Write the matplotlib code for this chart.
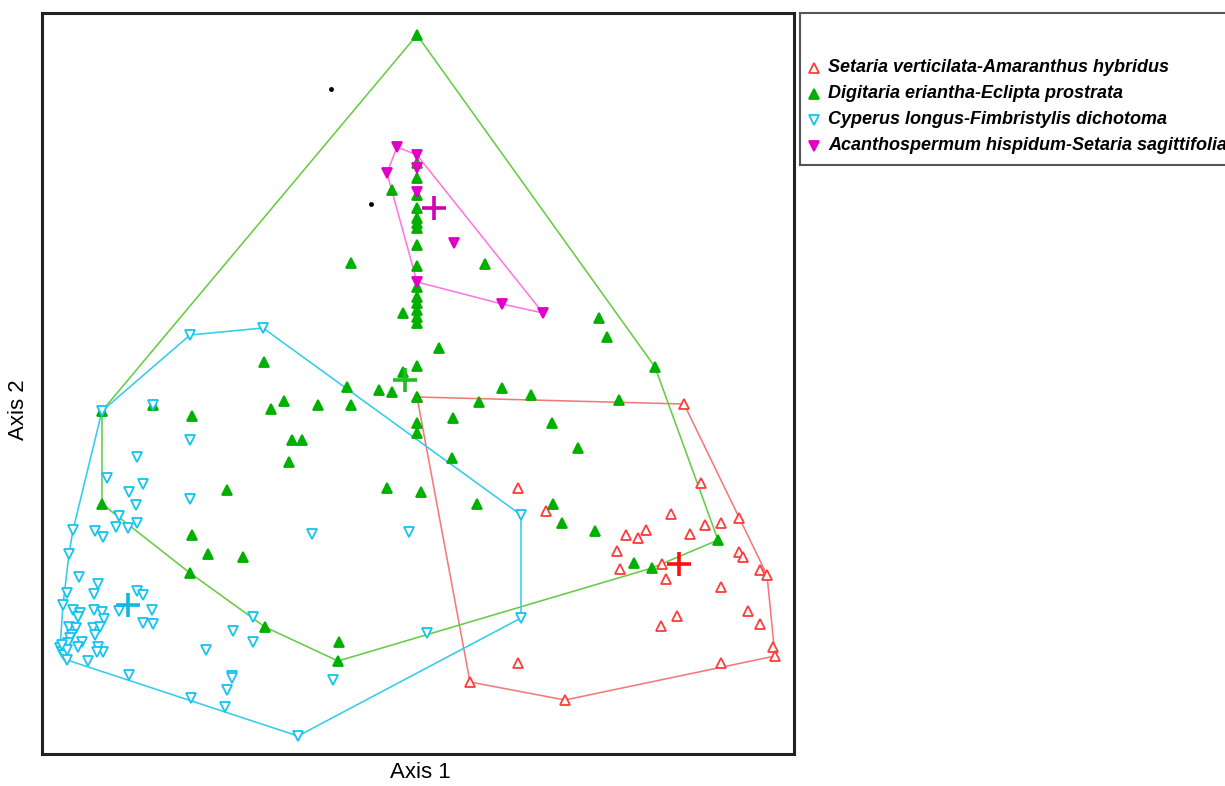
import matplotlib

matplotlib.use("Agg")
import matplotlib.pyplot as plt  # noqa: E402
import numpy as np  # noqa: E402

# ordination scores (axis 2 grows downward in these units)
setaria_x = [417, 684, 701, 518, 546, 671, 739, 721, 705, 646, 626, 638, 690, 617,
             739, 743, 662, 620, 666, 760, 767, 721, 748, 677, 760, 661, 773, 775,
             721, 518, 565, 470]
setaria_y = [397, 404, 483, 488, 511, 514, 518, 523, 525, 530, 535, 538, 534, 551,
             552, 557, 564, 569, 579, 570, 575, 587, 611, 616, 624, 626, 647, 656,
             663, 663, 700, 682]

digitaria_x = [417, 102, 102, 153, 192, 264, 271, 284, 318, 347, 351, 379, 392, 403,
               417, 417, 292, 302, 289, 227, 192, 208, 243, 190, 265, 339, 338, 387,
               421, 417, 417, 453, 452, 479, 502, 531, 552, 578, 477, 553, 562, 595,
               619, 634, 652, 718, 655, 599, 607, 439, 403, 351, 485, 392,
               417, 417, 417, 417, 417, 417, 417, 417, 417, 417, 417, 417, 417, 417, 417]
digitaria_y = [35, 411, 504, 405, 416, 362, 409, 401, 405, 387, 405, 390, 392, 372,
               366, 397, 440, 440, 462, 490, 535, 554, 557, 573, 627, 642, 661, 488,
               492, 423, 433, 418, 458, 402, 388, 395, 423, 448, 504, 504, 523, 531,
               400, 563, 568, 540, 367, 318, 337, 348, 313, 263, 264, 190,
               163, 178, 195, 208, 218, 223, 228, 245, 266, 287, 297, 303, 310, 317, 323]

cyperus_x = [102, 153, 190, 263, 190, 137, 107, 143, 129, 136, 190, 119, 137, 116, 95,
             103, 128, 73, 69, 79, 98, 94, 67, 63, 137, 143, 119, 73, 80, 78, 94, 102,
             104, 152, 143, 153, 93, 100, 95, 69, 76, 72, 82, 78, 70, 68, 60, 62, 64,
             67, 62, 98, 103, 97, 88, 67, 206, 129, 191, 232, 232, 227, 225, 253, 233,
             253, 333, 298, 312, 409, 521, 427, 521]
cyperus_y = [411, 405, 335, 328, 440, 457, 478, 484, 492, 505, 499, 516, 523, 527, 531,
             537, 528, 530, 554, 577, 584, 594, 593, 605, 591, 595, 611, 610, 613, 617,
             610, 612, 619, 610, 623, 624, 628, 627, 635, 627, 628, 635, 642, 647, 638,
             643, 648, 652, 655, 650, 645, 647, 652, 652, 661, 660, 650, 675, 698, 676,
             678, 690, 707, 617, 631, 642, 680, 736, 534, 532, 515, 633, 618]

acanth_x = [397, 417, 387, 417, 417, 454, 417, 502, 543]
acanth_y = [147, 155, 173, 168, 192, 243, 282, 304, 313]

# group centroids
centroid_x = [679, 405, 128, 434]
centroid_y = [564, 380, 605, 208]

speck_x = [331, 371]
speck_y = [89, 204]

labels = [
    "Setaria verticilata-Amaranthus hybridus",
    "Digitaria eriantha-Eclipta prostrata",
    "Cyperus longus-Fimbristylis dichotoma",
    "Acanthospermum hispidum-Setaria sagittifolia",
]


def convex_hull(xs, ys):
    pts = sorted(set(zip(xs, ys)))

    def cross(o, a, b):
        return (a[0] - o[0]) * (b[1] - o[1]) - (a[1] - o[1]) * (b[0] - o[0])

    lower, upper = [], []
    for p in pts:
        while len(lower) >= 2 and cross(lower[-2], lower[-1], p) <= 0:
            lower.pop()
        lower.append(p)
    for p in reversed(pts):
        while len(upper) >= 2 and cross(upper[-2], upper[-1], p) <= 0:
            upper.pop()
        upper.append(p)
    hull = lower[:-1] + upper[:-1]
    hull.append(hull[0])
    return np.array(hull)


W, H = 1225, 786
fig = plt.figure(figsize=(W / 100, H / 100), dpi=100)
ax = fig.add_axes([42 / W, (H - 754) / H, (794 - 42) / W, (754 - 13) / H])

groups = [
    # x, y, marker, face, edge, hull colour, cross colour
    (setaria_x, setaria_y, "^", "white", "#ff3b3b", "#f47a7a", "#ff1010"),
    (digitaria_x, digitaria_y, "^", "#00b000", "#00b000", "#66cc44", "#22bb22"),
    (cyperus_x, cyperus_y, "v", "white", "#14c4f0", "#33ccee", "#10b8e0"),
    (acanth_x, acanth_y, "v", "#e000c8", "#e000c8", "#ff77e0", "#d000b8"),
]

for gx, gy, mk, fc, ec, hc, cc in groups:
    hull = convex_hull(gx, gy)
    ax.plot(hull[:, 0], hull[:, 1], "-", color=hc, lw=1.15, zorder=2)

for gx, gy, mk, fc, ec, hc, cc in groups:
    ax.plot(gx, gy, mk, ls="none", ms=6.8, mfc=fc, mec=ec, mew=1.3, zorder=3)

for (gx, gy, mk, fc, ec, hc, cc), cx, cy in zip(groups, centroid_x, centroid_y):
    ax.plot(cx, cy, "+", color=cc, ms=17, mew=2.6, zorder=4)

ax.plot(speck_x, speck_y, "o", color="black", ms=2.5, zorder=4)

ax.set_xlim(42, 794)
ax.set_ylim(754, 13)
ax.set_xticks([])
ax.set_yticks([])
for sp in ax.spines.values():
    sp.set_linewidth(2.2)
    sp.set_color("#222222")

fig.text(420 / W, 1 - 773 / H, "Axis 1", fontsize=16, family="Liberation Sans",
         ha="center", va="center")
fig.text(18 / W, 1 - 410 / H, "Axis 2", fontsize=16, family="Liberation Sans",
         rotation=90, ha="center", va="center")

# legend box, running off the right edge like the original
leg_top, leg_bot = 13, 165
lax = fig.add_axes([800 / W, (H - leg_bot) / H, (1240 - 800) / W,
                    (leg_bot - leg_top) / H])
lax.set_xlim(800, 1240)
lax.set_ylim(leg_bot, leg_top)
lax.set_xticks([])
lax.set_yticks([])
for sp in lax.spines.values():
    sp.set_linewidth(1.5)
    sp.set_color("#555555")

row_y = [68, 94, 120, 146]
for (gx, gy, mk, fc, ec, hc, cc), lab, ry in zip(groups, labels, row_y):
    lax.plot(814, ry, mk, ms=6.5, mfc=fc, mec=ec, mew=1.3, clip_on=False)
    lax.text(828, ry, lab, fontsize=13, family="Liberation Sans",
             fontweight="bold", fontstyle="italic", ha="left", va="center")

fig.savefig("out.png", dpi=100)
